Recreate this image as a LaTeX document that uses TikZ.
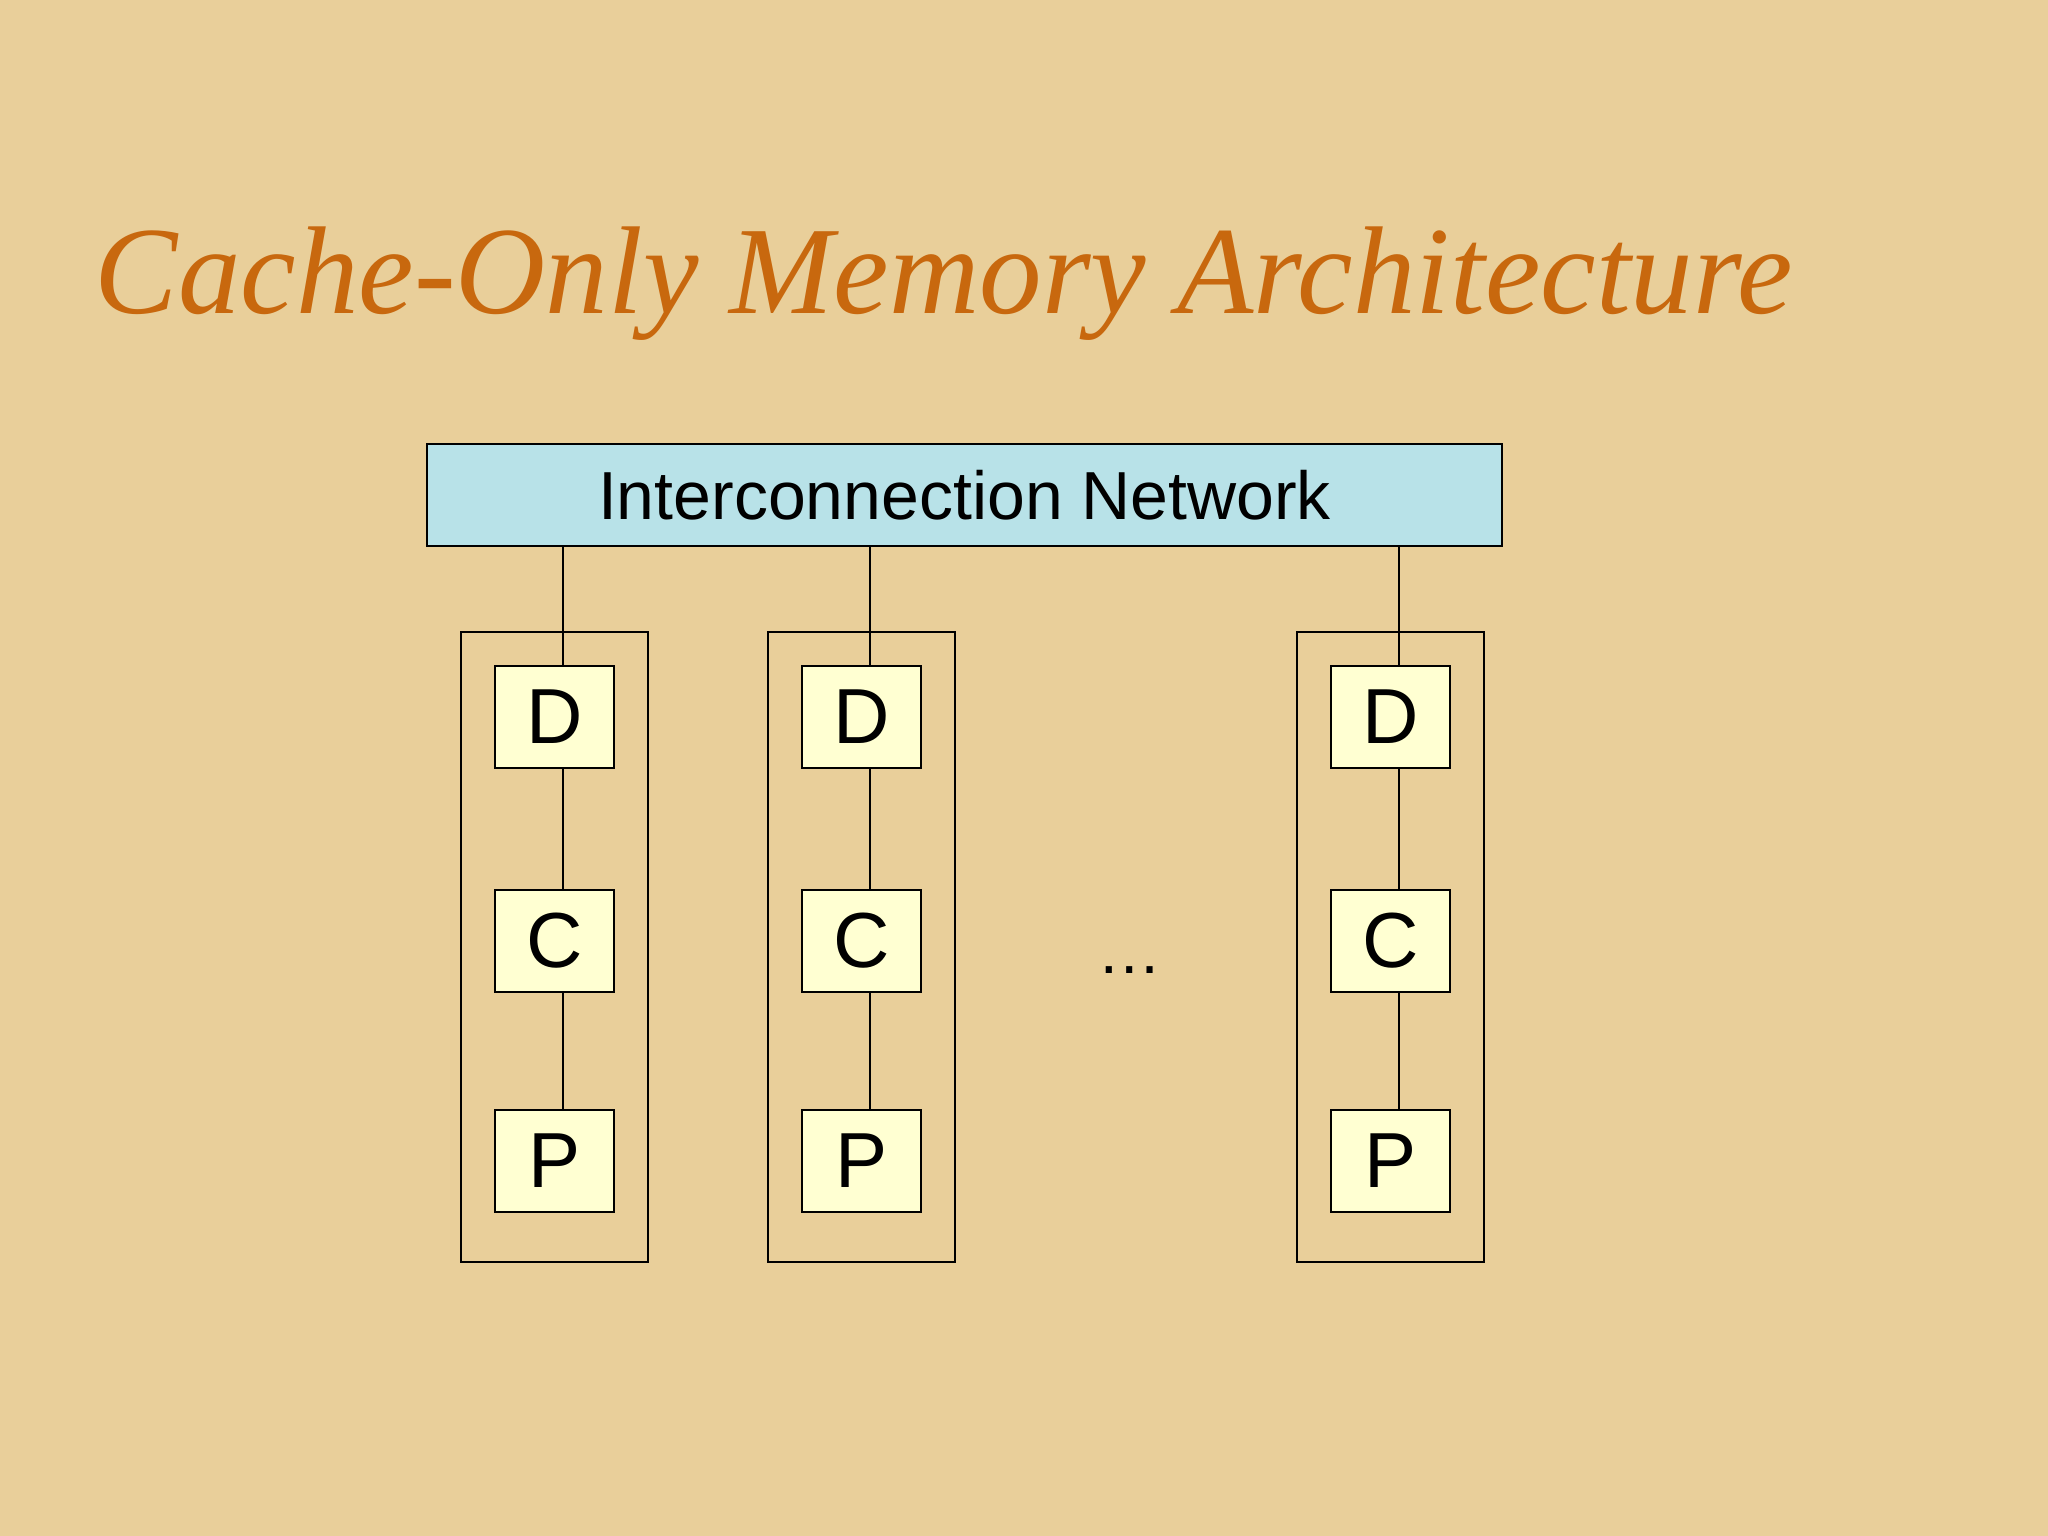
\documentclass[tikz,border=0pt]{standalone}
\usepackage{fontspec}
\setmainfont{Liberation Serif}
\setsansfont{Liberation Sans}
\usetikzlibrary{calc}
\definecolor{bg}{HTML}{E9CF9A}
\definecolor{titlec}{HTML}{C8680E}
\definecolor{netc}{HTML}{B8E2E8}
\definecolor{boxc}{HTML}{FFFFD2}
\begin{document}
\begin{tikzpicture}[x=0.01cm,y=-0.01cm,
  unit/.style={draw=black,fill=boxc,minimum width=0.91cm,minimum height=0.78cm,inner sep=0pt,font=\sffamily\fontsize{17}{17}\selectfont},
  outer/.style={draw=black,line width=0.5pt},
  wire/.style={draw=black,line width=0.5pt}]
\fill[bg] (0,0) rectangle (1568,1176);
\useasboundingbox (0,0) rectangle (1568,1176);
\node[anchor=base west,text=titlec,font=\itshape\fontsize{27.2}{27.2}\selectfont,inner sep=0pt] (title) at (72,240) {Cache-Only Memory Architecture};
\node[draw=black,fill=netc,minimum width=8.23cm,minimum height=0.78cm,inner sep=0pt,font=\sffamily\fontsize{14.8}{14.8}\selectfont] (net) at (738.5,379) {Interconnection Network};
\foreach \i/\x in {1/424.5,2/659.5,3/1064.5}{
  \node[outer,minimum width=1.43cm,minimum height=4.82cm,inner sep=0pt] (o\i) at (\x,725) {};
  \node[unit] (d\i) at (\x,549) {D};
  \node[unit] (c\i) at (\x,720.5) {C};
  \node[unit] (p\i) at (\x,889) {P};
  \coordinate (t\i) at ($(d\i.north)+(6.5,0)$);
  \draw[wire] (t\i |- net.south) -- (t\i);
  \draw[wire] ($(d\i.south)+(6.5,0)$) -- ($(c\i.north)+(6.5,0)$);
  \draw[wire] ($(c\i.south)+(6.5,0)$) -- ($(p\i.north)+(6.5,0)$);
}
\node[font=\sffamily\fontsize{14}{14}\selectfont] (dots) at (865,743) {\dots};
\end{tikzpicture}
\end{document}
